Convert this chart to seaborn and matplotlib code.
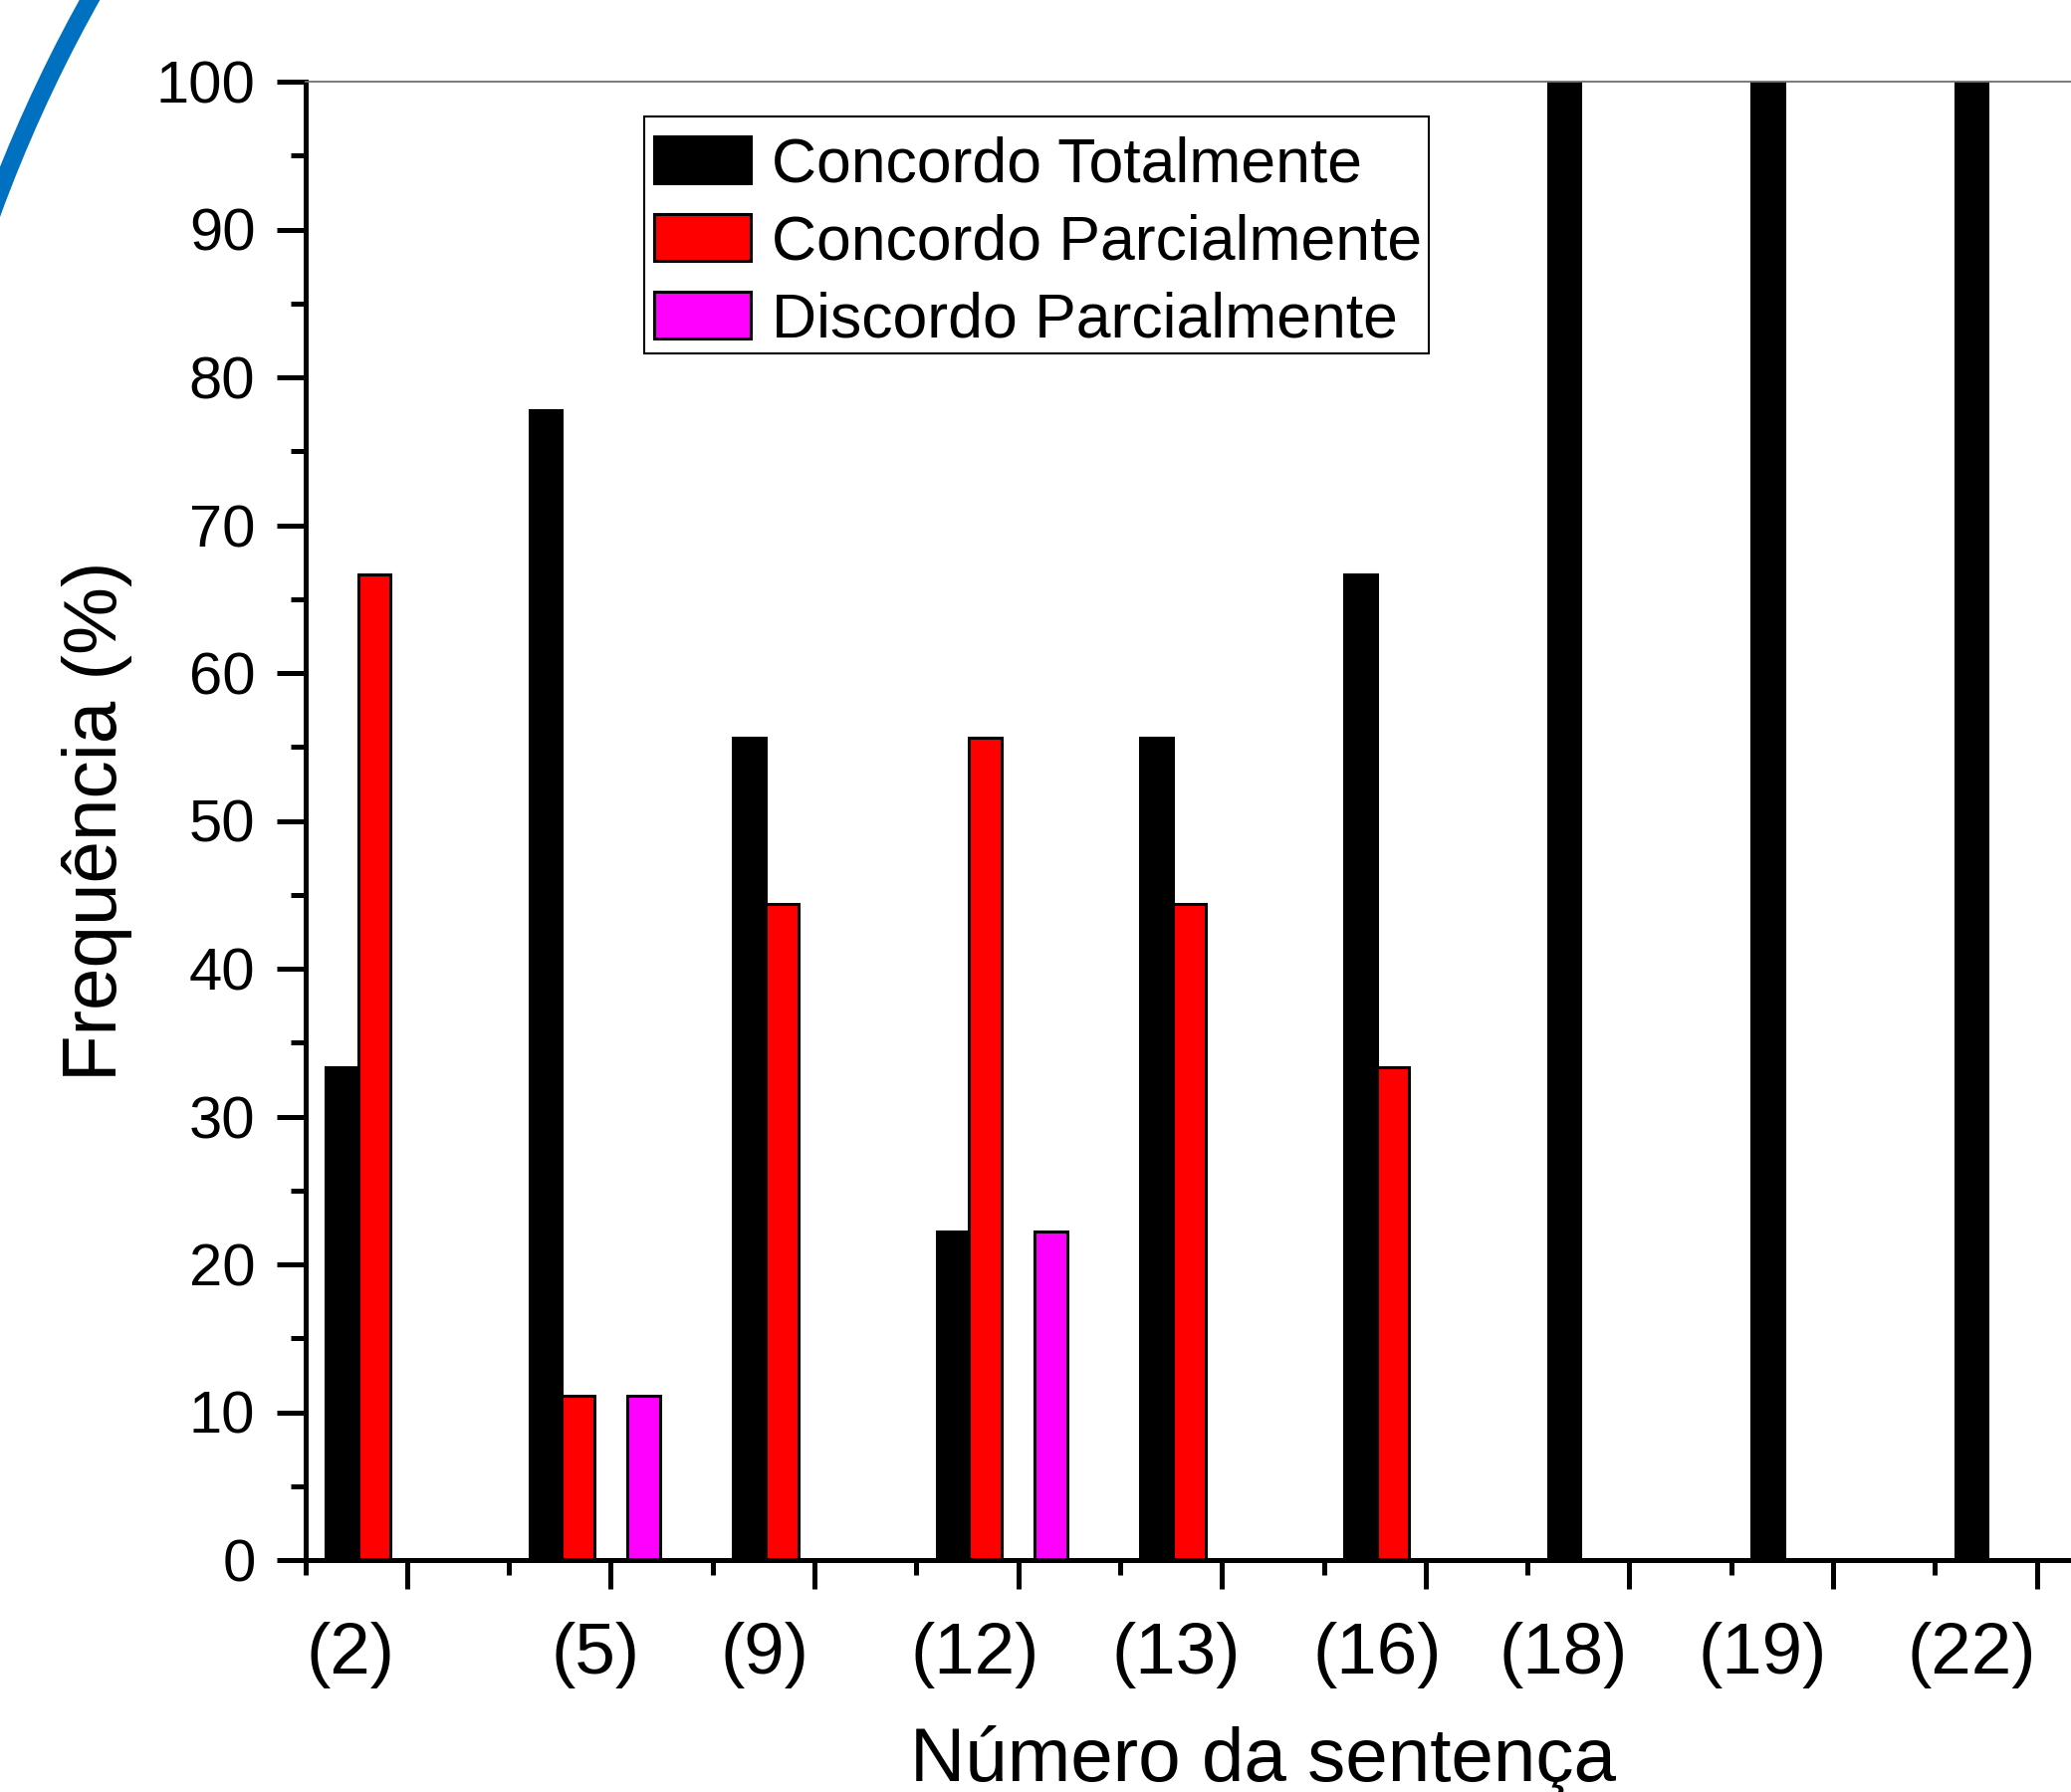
import numpy as np
import pandas as pd
import matplotlib
matplotlib.use("Agg")
import matplotlib.pyplot as plt
import seaborn as sns
from matplotlib.patches import Patch, Arc, Rectangle
from matplotlib.transforms import ScaledTranslation
from matplotlib.ticker import MultipleLocator

# ---------------- data ----------------
sentences = ["(2)", "(5)", "(9)", "(12)", "(13)", "(16)", "(18)", "(19)", "(22)"]
concordo_totalmente = [33.3, 77.8, 55.6, 22.2, 55.6, 66.7, 100.0, 100.0, 100.0]
concordo_parcialmente = [66.7, 11.1, 44.4, 55.6, 44.4, 33.3, 0.0, 0.0, 0.0]
indiferente = [0.0, 0.0, 0.0, 0.0, 0.0, 0.0, 0.0, 0.0, 0.0]
discordo_parcialmente = [0.0, 11.1, 0.0, 22.2, 0.0, 0.0, 0.0, 0.0, 0.0]
discordo_totalmente = [0.0, 0.0, 0.0, 0.0, 0.0, 0.0, 0.0, 0.0, 0.0]

series_names = ["Concordo Totalmente", "Concordo Parcialmente", "Indiferente",
                "Discordo Parcialmente", "Discordo Totalmente"]
series_values = [concordo_totalmente, concordo_parcialmente, indiferente,
                 discordo_parcialmente, discordo_totalmente]
legend_names = ["Concordo Totalmente", "Concordo Parcialmente", "Discordo Parcialmente"]

# ---------------- style ----------------
colors = {"Concordo Totalmente": "#000000",
          "Concordo Parcialmente": "#FF0000",
          "Indiferente": "#FFFFFF",
          "Discordo Parcialmente": "#FF00FF",
          "Discordo Totalmente": "#FFFFFF"}
# horizontal pixel offsets of the tick labels (they sit left of the ticks)
label_offsets_px = [-57, -15, -50, -43, -46, -49, -66, -71, -65]

sns.set_style("ticks")
plt.rcParams["font.family"] = ["Liberation Sans", "DejaVu Sans"]
plt.rcParams["text.color"] = "black"
plt.rcParams["axes.labelcolor"] = "black"
plt.rcParams["xtick.color"] = "black"
plt.rcParams["ytick.color"] = "black"
plt.rcParams["xtick.labelcolor"] = "black"
plt.rcParams["ytick.labelcolor"] = "black"

rows = []
for name, vals in zip(series_names, series_values):
    for s, v in zip(sentences, vals):
        rows.append({"Sentença": s, "Frequência": v, "Resposta": name})
df = pd.DataFrame(rows)

DPI = 100
fig = plt.figure(figsize=(20.8, 18), dpi=DPI)
fig.patch.set_facecolor("white")
ax = fig.add_axes([306.5 / 2080, 233 / 1800, 1841.4 / 2080, 1485 / 1800])

sns.barplot(data=df, x="Sentença", y="Frequência", hue="Resposta",
            order=sentences, hue_order=series_names, palette=colors,
            saturation=1, errorbar=None, edgecolor="black", linewidth=2.2,
            legend=False, ax=ax)

ax.set_xlim(-0.5, 8.5)
ax.set_ylim(0, 100)

ax.yaxis.set_major_locator(MultipleLocator(10))
ax.yaxis.set_minor_locator(MultipleLocator(5))
ax.set_xticks(range(len(sentences)))
ax.set_xticklabels(sentences)
ax.set_xticks(np.arange(-0.5, len(sentences), 1.0), minor=True)

ax.tick_params(axis="both", which="major", direction="out", length=21, width=3.6,
               color="black", labelcolor="black", top=False, right=False)
ax.tick_params(axis="both", which="minor", direction="out", length=10.5, width=3.6,
               color="black", top=False, right=False)
ax.tick_params(axis="y", which="major", labelsize=43, pad=15)
ax.tick_params(axis="x", which="major", labelsize=52.5, pad=24)

for lab, dx in zip(ax.get_xticklabels(), label_offsets_px):
    lab.set_transform(lab.get_transform() + ScaledTranslation(dx / DPI, 0, fig.dpi_scale_trans))

for side in ["left", "bottom"]:
    ax.spines[side].set_linewidth(3.6)
    ax.spines[side].set_color("black")
ax.spines["top"].set_linewidth(1.3)
ax.spines["top"].set_color("#707070")
ax.spines["right"].set_linewidth(1.3)
ax.spines["right"].set_color("#707070")

ax.set_ylabel("Frequência (%)", fontsize=55, color="black")
ax.yaxis.set_label_coords(-0.094, 0.5)
ax.set_xlabel("Número da sentença", fontsize=55, color="black")
ax.xaxis.set_label_coords(0.5226, -0.1115)

# legend frame (drawn separately so the entries can sit slightly low, as in the reference)
frame = Rectangle((0.1849, 0.8162), 0.6128 - 0.1849, 0.9764 - 0.8162,
                  transform=ax.transAxes, facecolor="white", edgecolor="black",
                  linewidth=1.5, zorder=4.9, clip_on=False)
ax.add_patch(frame)

handles = [Patch(facecolor=colors[n], edgecolor="black", linewidth=2.2) for n in legend_names]
leg = ax.legend(handles, legend_names, loc="upper left", bbox_to_anchor=(0.1836, 0.9717),
                borderaxespad=0, fontsize=45, frameon=False,
                handlelength=1.55, handleheight=0.78, handletextpad=0.33, borderpad=0.2,
                labelspacing=0.3, labelcolor="black")
leg.set_zorder(5)

# decorative blue arc in the top-left corner
arc = Arc((14.0, 10.693), 30, 30, theta1=145, theta2=162,
          transform=fig.dpi_scale_trans, color="#0070C0", linewidth=13)
fig.add_artist(arc)

fig.savefig("out.png", dpi=DPI, facecolor="white")
